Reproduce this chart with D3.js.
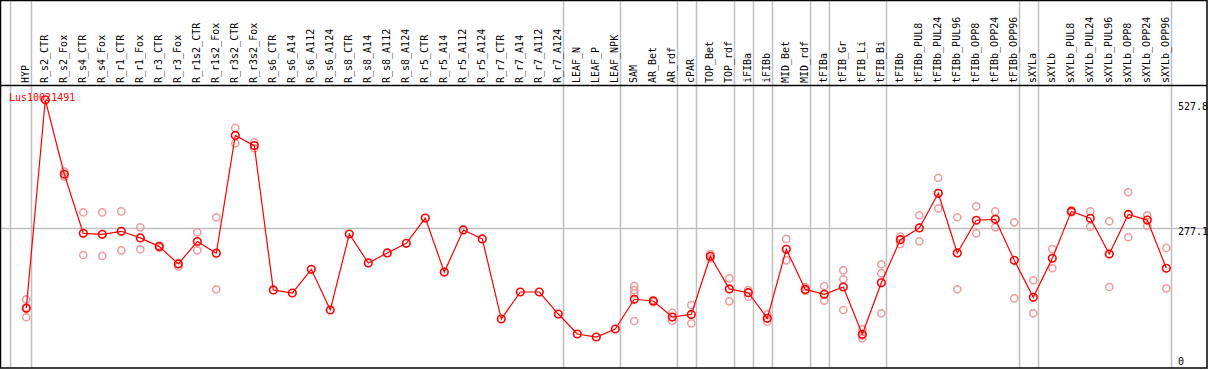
<!DOCTYPE html>
<html>
<head>
<meta charset="utf-8">
<script src="https://cdn.jsdelivr.net/npm/d3@7"></script>
<style>
  html, body { margin: 0; padding: 0; background: #fff; }
  svg { display: block; }
  text { font-family: "DejaVu Sans Mono", monospace; font-size: 10px; }
</style>
</head>
<body>
<svg id="chart" width="1209" height="370"></svg>
<script>
const geneName = "Lus10021491";

const categories = [
  "HYP","R_s2_CTR","R_s2_Fox","R_s4_CTR","R_s4_Fox","R_r1_CTR","R_r1_Fox","R_r3_CTR","R_r3_Fox",
  "R_r1s2_CTR","R_r1s2_Fox","R_r3s2_CTR","R_r3s2_Fox","R_s6_CTR","R_s6_A14","R_s6_A112","R_s6_A124",
  "R_s8_CTR","R_s8_A14","R_s8_A112","R_s8_A124","R_r5_CTR","R_r5_A14","R_r5_A112","R_r5_A124",
  "R_r7_CTR","R_r7_A14","R_r7_A112","R_r7_A124","LEAF_N","LEAF_P","LEAF_NPK","SAM","AR_Bet","AR_rdf",
  "cPAR","TOP_Bet","TOP_rdf","iFIBa","iFIBb","MID_Bet","MID_rdf","tFIBa","tFIB_Gr","tFIB_Li","tFIB_Bi",
  "tFIBb","tFIBb_PUL8","tFIBb_PUL24","tFIBb_PUL96","tFIBb_OPP8","tFIBb_OPP24","tFIBb_OPP96",
  "sXYLa","sXYLb","sXYLb_PUL8","sXYLb_PUL24","sXYLb_PUL96","sXYLb_OPP8","sXYLb_OPP24","sXYLb_OPP96"
];

const meanValues = [
  119, 527.8, 381.8, 266, 264, 270, 257, 240, 206,
  250, 227, 458, 438, 155, 149, 195.5, 115.7,
  264.7, 207.9, 227.5, 246.4, 296, 190, 272.6, 255,
  98, 151, 151, 107.8, 68.6, 62.7, 78.4, 136.7, 133.3, 102,
  107, 221, 157, 149.6, 99.4, 234.7, 156, 146.5, 160.8, 68, 169,
  253.5, 276.5, 344.5, 227.5, 291.6, 293.5, 213,
  140.6, 217, 309, 295.5, 225.5, 303, 292, 197.5
];

const replicateValues = [
  [136.6, 120.8, 101.4], [], [387, 377], [307, 223.5], [307, 221.6], [309, 232.7], [277.8, 234.7], [242, 238], [206, 201],
  [268, 232.7], [297.5, 156.3], [472.6, 442.6], [444.5, 432.8], [], [], [], [],
  [], [], [], [], [], [], [], [],
  [], [], [], [], [], [], [], [162.7, 154.9, 148.4, 94.1], [135, 131], [110, 94.7],
  [125.5, 89.6], [225.5, 217], [177.8, 132.7], [154.9, 141.8], [107, 92.6], [255, 213], [160.8, 153], [162.7, 134], [193.5, 175.9, 115.7], [77.8, 66, 60.2], [205.3, 187.6, 109.2],
  [259.4, 245], [301.4, 250.4], [375, 315], [297.5, 156.3], [319, 266], [309, 277.8], [287.6, 138.6],
  [174, 109.2], [235.3, 197.5], [311, 307], [309, 279], [289.6, 160.8], [346.5, 258.3], [301.4, 281], [237.3, 158.2]
];

// group separators: drawn just after these category indices
const separatorsAfter = [-1, 0, 28, 31, 34, 35, 37, 38, 39, 41, 42, 45, 52, 53, 60];

const yTickValues = [527.8, 277.1, 0];
const yTickLabels = ["527.8", "277.1", "0"];

// ---------- drawing ----------
const plotTop = 85, plotBottom = 368, frameRight = 1207;
const svg = d3.select("#chart");

const x = d3.scaleLinear().domain([0, categories.length - 1]).range([26.3, 1166.3]);
const y = d3.scaleLinear().domain([0, 527.8]).range([369, 99.8]);

// horizontal reference line at middle tick
svg.append("line")
  .attr("x1", 0.5).attr("x2", frameRight)
  .attr("y1", Math.round(y(277.1)) + 0.5).attr("y2", Math.round(y(277.1)) + 0.5)
  .attr("stroke", "#c0c0c0").attr("stroke-width", 1.5);

// vertical separators
svg.selectAll("line.sep").data(separatorsAfter).join("line")
  .attr("class", "sep")
  .attr("x1", d => d < 0 ? 10.5 : Math.round(x(d) + 4.4) + 0.5)
  .attr("x2", d => d < 0 ? 10.5 : Math.round(x(d) + 4.4) + 0.5)
  .attr("y1", 0).attr("y2", plotBottom)
  .attr("stroke", "#c0c0c0").attr("stroke-width", 1.5);

// frame
svg.append("rect")
  .attr("x", 0.5).attr("y", 0.5).attr("width", frameRight - 0.5).attr("height", plotBottom - 0.5)
  .attr("fill", "none").attr("stroke", "#000").attr("stroke-width", 1.5);
svg.append("line")
  .attr("x1", 0).attr("x2", frameRight).attr("y1", plotTop + 0.5).attr("y2", plotTop + 0.5)
  .attr("stroke", "#000").attr("stroke-width", 1.5);

// category labels (rotated)
svg.selectAll("text.cat").data(categories).join("text")
  .attr("class", "cat")
  .attr("transform", (d, i) => `translate(${Math.round(x(i)) + 3},83) rotate(-90)`)
  .attr("text-anchor", "start")
  .attr("fill", "#000")
  .text(d => d);

// y labels on right
svg.selectAll("text.ytick").data(yTickValues).join("text")
  .attr("class", "ytick")
  .attr("x", 1178)
  .attr("y", d => Math.max(102.5, Math.min(357.5, y(d) + 0.5)))
  .attr("dominant-baseline", "hanging")
  .attr("fill", "#000")
  .text((d, i) => yTickLabels[i]);

// replicate points
const reps = [];
replicateValues.forEach((arr, i) => arr.forEach(v => reps.push({ i, v })));
svg.selectAll("circle.rep").data(reps).join("circle")
  .attr("class", "rep")
  .attr("cx", d => x(d.i)).attr("cy", d => y(d.v)).attr("r", 3.6)
  .attr("fill", "none").attr("stroke", "#f09a9a").attr("stroke-width", 1.5);

// mean line
const line = d3.line().x((d, i) => x(i)).y(d => y(d));
svg.append("path").datum(meanValues)
  .attr("d", line).attr("fill", "none").attr("stroke", "#ff0000").attr("stroke-width", 1.2);

// mean points
svg.selectAll("circle.mean").data(meanValues).join("circle")
  .attr("class", "mean")
  .attr("cx", (d, i) => x(i)).attr("cy", d => y(d)).attr("r", 3.8)
  .attr("fill", "none").attr("stroke", "#ff0000").attr("stroke-width", 1.6);

// gene title
svg.append("text")
  .attr("x", 9).attr("y", 100.5)
  .attr("fill", "#ff0000")
  .text(geneName);
</script>
</body>
</html>
